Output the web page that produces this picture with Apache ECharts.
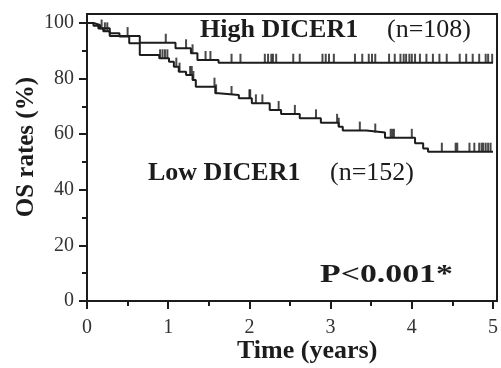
<!DOCTYPE html>
<html>
<head>
<meta charset="utf-8">
<script src="https://cdn.jsdelivr.net/npm/echarts@6/dist/echarts.min.js"></script>
<style>
html,body{margin:0;padding:0;background:#fff;}
#chart{width:501px;height:368px;}
</style>
</head>
<body>
<div id="chart"></div>
<script>
// Kaplan-Meier step points: time (years) and OS rate (%) after each event
var highTimes = [0, 0.08, 0.14, 0.2, 0.28, 0.65, 1.09, 1.28, 1.36, 1.62, 5];
var highRates = [100, 99.0, 98.0, 97.0, 95.3, 92.9, 90.9, 89.1, 86.7, 85.7, 85.7];
var lowTimes = [0, 0.08, 0.16, 0.28, 0.4, 0.52, 0.65, 0.89, 1.01, 1.07, 1.13, 1.22, 1.3, 1.34, 1.58, 1.62, 1.87, 2.03, 2.25, 2.39, 2.62, 2.88, 3.1, 3.15, 3.44, 3.67, 4.04, 4.14, 4.2, 5];
var lowRates = [100, 99.3, 98.1, 96.3, 95.1, 92.7, 88.5, 87.3, 86.1, 84.3, 82.5, 81.3, 79.5, 77.1, 74.7, 74.1, 72.9, 71.1, 68.7, 67.3, 65.7, 64.1, 62.7, 61.3, 60.6, 58.7, 56.7, 54.9, 53.7, 53.7];
// censored observations (years)
var highCensor = [0.18, 0.22, 0.25, 0.5, 0.97, 1.22, 1.3, 1.46, 1.52, 1.78, 1.89, 2.19, 2.23, 2.27, 2.29, 2.33, 2.54, 2.62, 2.9, 2.94, 2.98, 3.04, 3.3, 3.39, 3.47, 3.51, 3.55, 3.72, 3.79, 3.86, 3.9, 3.93, 3.97, 4.0, 4.04, 4.1, 4.18, 4.26, 4.34, 4.43, 4.59, 4.67, 4.75, 4.83, 4.91, 4.94, 4.99];
var lowCensor = [0.9, 0.93, 0.96, 0.99, 1.1, 1.14, 1.27, 1.29, 1.31, 1.57, 1.59, 1.78, 2.0, 2.01, 2.08, 2.16, 2.36, 2.56, 2.82, 3.08, 3.1, 3.36, 3.55, 3.74, 3.76, 3.78, 4.0, 4.37, 4.54, 4.56, 4.71, 4.77, 4.83, 4.86, 4.88, 4.91, 4.94, 4.97];
var xTicks = [0, 1, 2, 3, 4, 5];
var yTicks = [0, 20, 40, 60, 80, 100];
var labels = {
  high: 'High DICER1', highN: '(n=108)',
  low: 'Low DICER1', lowN: '(n=152)',
  p: 'P<0.001*', xName: 'Time (years)', yName: 'OS rates (%)'
};

function pairs(ts, vs) { return ts.map(function (t, i) { return [t, vs[i]]; }); }
function stepAt(ts, vs, t) {
  var v = vs[0];
  for (var i = 0; i < ts.length; i++) { if (ts[i] <= t) v = vs[i]; }
  return v;
}
function censorPts(cs, ts, vs) { return cs.map(function (t) { return [t, stepAt(ts, vs, t)]; }); }

var ink = '#1c1c1c';
var serif = '"Liberation Serif", "Times New Roman", serif';

var chart = echarts.init(document.getElementById('chart'), null, {renderer: 'canvas'});
chart.setOption({
  animation: false,
  backgroundColor: '#fff',
  grid: [
    {left: 87, right: 4, top: 14, bottom: 67, show: true, borderColor: ink, borderWidth: 2, backgroundColor: 'transparent'},
    {left: 87, right: 4, top: 23, bottom: 67}
  ],
  xAxis: [
    {gridIndex: 0, type: 'value', min: 0, max: 5, show: false},
    {gridIndex: 1, type: 'value', min: 0, max: 5, interval: 1,
     axisLine: {show: true, lineStyle: {color: ink, width: 2}},
     axisTick: {show: true, length: 8, lineStyle: {color: ink, width: 2}},
     minorTick: {show: true, splitNumber: 2, length: 5, lineStyle: {color: ink, width: 2}},
     splitLine: {show: false},
     axisLabel: {color: '#333', fontFamily: serif, fontSize: 20, margin: 17,
       formatter: function (v) { return xTicks.indexOf(v) >= 0 ? String(v) : ''; }}}
  ],
  yAxis: [
    {gridIndex: 0, type: 'value', min: 0, max: 100, show: false},
    {gridIndex: 1, type: 'value', min: 0, max: 100, interval: 20,
     axisLine: {show: true, lineStyle: {color: ink, width: 2}},
     axisTick: {show: true, length: 8, lineStyle: {color: ink, width: 2}},
     minorTick: {show: true, splitNumber: 2, length: 5, lineStyle: {color: ink, width: 2}},
     splitLine: {show: false},
     axisLabel: {color: '#333', fontFamily: serif, fontSize: 20, margin: 13,
       formatter: function (v) { return yTicks.indexOf(v) >= 0 ? String(v) : ''; }}}
  ],
  series: [
    {type: 'line', xAxisIndex: 1, yAxisIndex: 1, step: 'end', showSymbol: false, clip: false,
     lineStyle: {color: ink, width: 2}, data: pairs(highTimes, highRates)},
    {type: 'line', xAxisIndex: 1, yAxisIndex: 1, step: 'end', showSymbol: false, clip: false,
     lineStyle: {color: ink, width: 2}, data: pairs(lowTimes, lowRates)},
    {type: 'scatter', xAxisIndex: 1, yAxisIndex: 1, clip: false, symbol: 'rect', symbolSize: [2, 9], symbolOffset: [0, -4.5],
     itemStyle: {color: ink}, data: censorPts(highCensor, highTimes, highRates)},
    {type: 'scatter', xAxisIndex: 1, yAxisIndex: 1, clip: false, symbol: 'rect', symbolSize: [2, 9], symbolOffset: [0, -4.5],
     itemStyle: {color: ink}, data: censorPts(lowCensor, lowTimes, lowRates)}
  ],
  graphic: [
    {type: 'text', left: 200, top: 17, style: {text: labels.high, font: 'bold 26px ' + serif, fill: ink}},
    {type: 'text', left: 387, top: 17, style: {text: labels.highN, font: '26px ' + serif, fill: ink}},
    {type: 'text', left: 148, top: 160, style: {text: labels.low, font: 'bold 26px ' + serif, fill: ink}},
    {type: 'text', left: 330, top: 160, style: {text: labels.lowN, font: '26px ' + serif, fill: ink}},
    {type: 'text', x: 320, y: 262, scaleX: 1.3, style: {text: labels.p, font: 'bold 26px ' + serif, fill: ink}},
    {type: 'text', left: 237, top: 338, style: {text: labels.xName, font: 'bold 26px ' + serif, fill: ink}},
    {type: 'text', left: 14, top: 77, rotation: Math.PI / 2, style: {text: labels.yName, font: 'bold 25px ' + serif, fill: ink}}
  ]
});
</script>
</body>
</html>
